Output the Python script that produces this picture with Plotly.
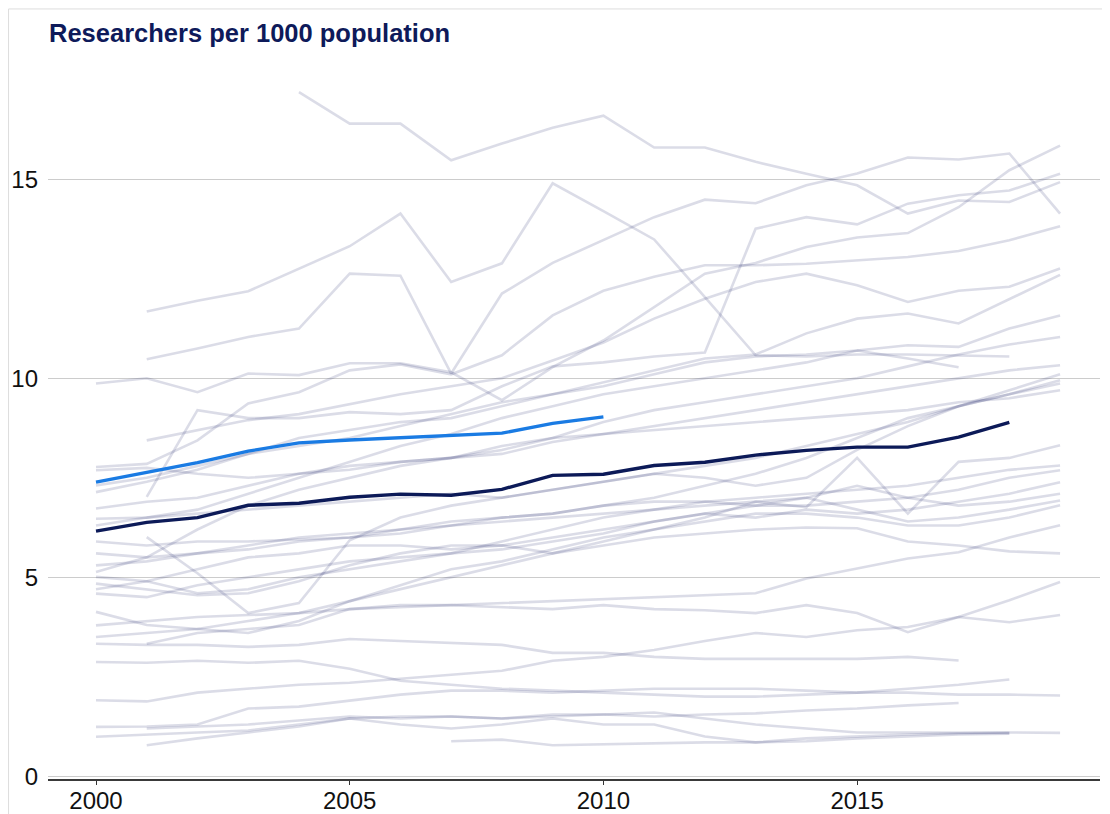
import plotly.graph_objects as go

years = list(range(2000, 2020))

# Highlighted series
navy_series = [6.16, 6.38, 6.5, 6.81, 6.86, 7.01, 7.09, 7.06, 7.21, 7.56, 7.59, 7.81, 7.89, 8.07, 8.19, 8.27, 8.27, 8.52, 8.89, None]
blue_series = [7.39, 7.64, 7.88, 8.17, 8.38, 8.45, 8.5, 8.57, 8.62, 8.87, 9.03] + [None] * 9

# Background (grey) country series
g_a = [None, None, None, None, 17.19, 16.4, 16.4, 15.48, 15.9, 16.3, 16.6, 15.8, 15.8, 15.44, 15.14, 14.85, 14.14, 14.47, 14.43, 14.93]
g_b = [None, 11.68, 11.95, 12.19, 12.76, 13.32, 14.14, 12.42, 12.89, 14.9, 14.2, 13.49, 12.04, 10.58, 10.55, 10.6, 10.6, 10.58, 10.55, None]
g_c = [None, 10.48, 10.75, 11.04, 11.25, 12.63, 12.58, 10.12, 12.13, 12.9, 13.47, 14.05, 14.49, 14.4, 14.85, 15.15, 15.55, 15.5, 15.65, 14.14]
g_d = [9.87, 10.0, 9.65, 10.12, 10.08, 10.38, 10.38, 10.15, 9.45, 10.28, 10.95, 11.79, 12.63, 12.9, 13.3, 13.54, 13.65, 14.3, 15.23, 15.85]
g_e = [None, 7.02, 9.2, 9.0, 9.0, 9.15, 9.1, 9.2, 9.8, 10.3, 10.4, 10.55, 10.65, 13.76, 14.05, 13.87, 14.39, 14.6, 14.72, 15.14]
g_g = [7.77, 7.85, 8.44, 9.37, 9.65, 10.2, 10.35, 10.1, 10.58, 11.58, 12.2, 12.55, 12.84, 12.84, 12.88, 12.96, 13.05, 13.2, 13.47, 13.82]
g_h = [None, 8.44, 8.7, 8.95, 9.1, 9.35, 9.6, 9.8, 10.0, 10.45, 10.9, 11.5, 12.0, 12.42, 12.63, 12.34, 11.92, 12.2, 12.3, 12.76]
g_j = [7.14, 7.4, 7.7, 8.1, 8.5, 8.7, 8.9, 9.0, 9.3, 9.6, 9.9, 10.2, 10.5, 10.6, 11.13, 11.5, 11.63, 11.38, 12.0, 12.6]
g_i = [7.31, 7.5, 7.8, 8.1, 8.3, 8.5, 8.8, 9.1, 9.4, 9.6, 9.8, 10.1, 10.4, 10.55, 10.6, 10.7, 10.83, 10.79, 11.25, 11.58]
g_k = [7.69, 7.75, 7.6, 7.5, 7.6, 7.7, 7.9, 8.0, 8.2, 8.5, 8.9, 9.2, 9.4, 9.6, 9.8, 10.0, 10.3, 10.6, 10.85, 11.04]
g_l = [6.73, 6.9, 7.0, 7.3, 7.6, 7.8, 7.9, 8.0, 8.1, 8.4, 8.6, 8.8, 9.0, 9.2, 9.4, 9.6, 9.8, 10.0, 10.2, 10.33]
g_q = [6.47, 6.5, 6.7, 7.1, 7.5, 7.9, 8.3, 8.6, 9.0, 9.3, 9.6, 9.8, 10.0, 10.2, 10.4, 10.7, 10.5, 10.28, None, None]
g_m = [6.3, 6.5, 6.6, 6.7, 6.8, 6.9, 7.0, 7.1, 7.0, 7.2, 7.4, 7.6, 7.5, 7.3, 7.5, 8.2, 8.8, 9.3, 9.7, 10.1]
g_n = [None, 6.01, 5.1, 4.1, 4.35, 5.93, 6.5, 6.8, 7.0, 7.2, 7.4, 7.6, 7.8, 8.0, 8.3, 8.6, 8.9, 9.3, 9.6, 9.95]
g_o = [5.6, 5.5, 5.6, 5.7, 5.9, 6.0, 6.2, 6.4, 6.5, 6.6, 6.8, 7.0, 7.3, 7.6, 8.0, 8.5, 9.0, 9.3, 9.6, 9.87]
g_p = [5.13, 5.5, 6.2, 6.8, 7.2, 7.5, 7.8, 8.0, 8.3, 8.5, 8.6, 8.7, 8.8, 8.9, 9.0, 9.1, 9.2, 9.4, 9.5, 9.7]
g_r1 = [5.3, 5.4, 5.6, 5.8, 6.0, 6.1, 6.2, 6.3, 6.4, 6.5, 6.6, 6.7, 6.8, 6.9, 6.76, 8.0, 6.6, 7.9, 8.0, 8.32]
g_r2 = [5.01, 4.9, 4.6, 4.7, 5.0, 5.2, 5.4, 5.6, 5.9, 6.2, 6.5, 6.7, 6.9, 7.0, 7.1, 7.2, 7.3, 7.5, 7.7, 7.81]
g_r3 = [5.9, 5.8, 5.9, 5.9, 5.95, 6.0, 6.1, 6.3, 6.5, 6.6, 6.8, 6.9, 6.9, 6.8, 6.8, 6.9, 7.0, 7.2, 7.5, 7.69]
g_r4 = [4.84, 4.7, 4.55, 4.6, 4.9, 5.3, 5.6, 5.8, 5.8, 6.0, 6.2, 6.4, 6.6, 6.5, 6.7, 6.6, 6.7, 6.9, 7.1, 7.39]
g_r5 = [4.59, 4.5, 4.8, 5.0, 5.2, 5.4, 5.5, 5.6, 5.7, 5.9, 6.1, 6.4, 6.6, 6.8, 7.0, 7.3, 7.0, 6.8, 6.9, 7.1]
g_r6 = [4.7, 4.9, 5.2, 5.5, 5.6, 5.8, 5.8, 5.7, 5.8, 5.6, 5.9, 6.2, 6.5, 6.9, 7.0, 6.7, 6.4, 6.5, 6.7, 6.93]
g_r7 = [4.13, 3.8, 3.7, 3.6, 3.9, 4.4, 4.8, 5.2, 5.4, 5.7, 6.0, 6.2, 6.4, 6.6, 6.6, 6.5, 6.3, 6.3, 6.5, 6.81]
g_r8 = [3.79, 3.9, 4.0, 4.05, 4.1, 4.2, 4.25, 4.3, 4.35, 4.4, 4.45, 4.5, 4.55, 4.6, 4.97, 5.22, 5.47, 5.63, 6.0, 6.31]
g_r9 = [3.5, 3.6, 3.7, 3.9, 4.1, 4.4, 4.7, 5.0, 5.3, 5.6, 5.8, 6.0, 6.1, 6.2, 6.25, 6.23, 5.9, 5.8, 5.65, 5.6]
g_r10 = [3.33, 3.3, 3.3, 3.25, 3.3, 3.45, 3.4, 3.35, 3.3, 3.1, 3.1, 3.0, 2.95, 2.95, 2.95, 2.95, 3.0, 2.91, None, None]
g_r11 = [None, 3.33, 3.6, 3.7, 3.8, 4.2, 4.3, 4.3, 4.25, 4.2, 4.3, 4.2, 4.17, 4.1, 4.3, 4.1, 3.62, 4.0, 3.87, 4.05]
g_b1 = [2.87, 2.85, 2.9, 2.85, 2.9, 2.7, 2.4, 2.3, 2.2, 2.15, 2.1, 2.05, 2.0, 2.0, 2.05, 2.1, 2.2, 2.3, 2.43, None]
g_b2 = [1.91, 1.88, 2.1, 2.2, 2.3, 2.35, 2.45, 2.55, 2.65, 2.9, 3.0, 3.17, 3.4, 3.6, 3.5, 3.67, 3.75, 4.0, 4.42, 4.88]
g_b3 = [1.24, 1.25, 1.3, 1.7, 1.75, 1.9, 2.05, 2.15, 2.15, 2.1, 2.15, 2.2, 2.2, 2.2, 2.15, 2.1, 2.1, 2.05, 2.05, 2.03]
g_b4 = [None, 1.2, 1.25, 1.3, 1.4, 1.5, 1.45, 1.5, 1.45, 1.55, 1.55, 1.5, 1.55, 1.58, 1.65, 1.7, 1.78, 1.84, None, None]
g_b5 = [0.99, 1.05, 1.1, 1.15, 1.3, 1.45, 1.3, 1.2, 1.3, 1.45, 1.3, 1.3, 1.0, 0.85, 0.95, 1.0, 1.05, 1.08, 1.1, 1.09]
g_b6 = [None, 0.78, 0.95, 1.1, 1.25, 1.45, 1.5, 1.5, 1.45, 1.5, 1.55, 1.6, 1.45, 1.3, 1.2, 1.1, 1.1, 1.1, 1.09, None]
g_b7 = [None] * 7 + [0.88, 0.92, 0.78, 0.8, 0.82, 0.85, 0.85, 0.88, 0.95, 1.0, 1.05, 1.07, None]

grey_list = [g_a, g_b, g_c, g_d, g_e, g_g, g_h, g_j, g_i, g_k, g_l, g_q, g_m, g_n, g_o, g_p,
             g_r1, g_r2, g_r3, g_r4, g_r5, g_r6, g_r7, g_r8, g_r9, g_r10, g_r11,
             g_b1, g_b2, g_b3, g_b4, g_b5, g_b6, g_b7]

x_ticks = [2000, 2005, 2010, 2015]
y_ticks = [0, 5, 10, 15]
title_text = "Researchers per 1000 population"

FONT = "Liberation Sans, Arial, sans-serif"

fig = go.Figure()
for s in grey_list:
    fig.add_trace(go.Scatter(x=years, y=s, mode="lines",
                             line=dict(color="rgba(40,50,115,0.17)", width=2.6),
                             hoverinfo="skip", showlegend=False))
fig.add_trace(go.Scatter(x=years, y=blue_series, mode="lines",
                         line=dict(color="#1a7be3", width=3.3), showlegend=False))
fig.add_trace(go.Scatter(x=years, y=navy_series, mode="lines",
                         line=dict(color="#0c1a58", width=3.4), showlegend=False))

fig.update_layout(
    width=1094, height=806,
    margin=dict(l=40, r=2, t=52, b=35),
    paper_bgcolor="white", plot_bgcolor="white",
    font=dict(family=FONT, color="#111111"),
    xaxis=dict(range=[1999.054, 2019.787], tickvals=x_ticks, showgrid=False,
               zeroline=False, ticks="outside", ticklen=4, tickcolor="#333333",
               showline=True, linecolor="#3a3a3a", linewidth=2,
               ticklabelstandoff=-5, automargin=False,
               tickfont=dict(size=24, family=FONT, color="#111111")),
    yaxis=dict(range=[-0.07, 18], tickvals=y_ticks, showgrid=True,
               gridcolor="#cccccc", gridwidth=1, zeroline=False, showline=False,
               ticks="", ticklabelstandoff=9, automargin=False,
               tickfont=dict(size=24, family=FONT, color="#111111")),
    annotations=[dict(text="<b>" + title_text + "</b>", xref="paper", yref="paper",
                      x=-0.001, y=1.0376, xanchor="left", yanchor="middle",
                      showarrow=False, font=dict(size=25.5, family=FONT, color="#0e1a5a"))],
    shapes=[
        dict(type="line", xref="paper", yref="paper", x0=-0.0375, x1=-0.0375, y0=-0.049, y1=1.071,
             line=dict(color="#dddddd", width=1)),
        dict(type="line", xref="paper", yref="paper", x0=-0.0375, x1=1.002, y0=1.071, y1=1.071,
             line=dict(color="#dddddd", width=1)),
    ],
)

fig.write_html("out.html")
